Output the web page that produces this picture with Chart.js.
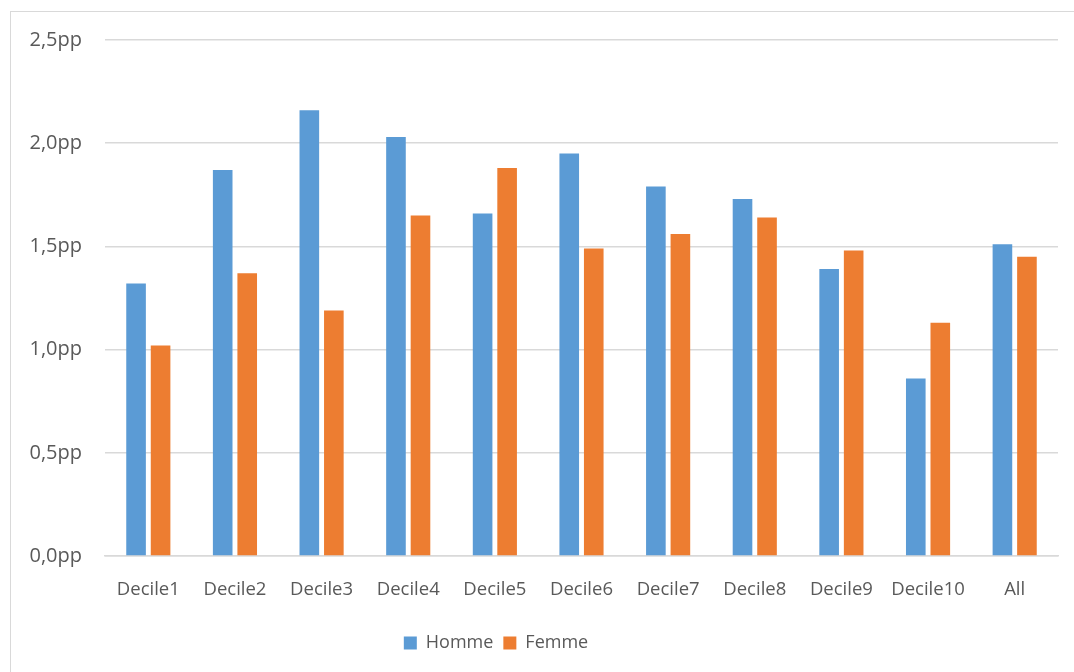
<!DOCTYPE html>
<html>
<head>
<meta charset="utf-8">
<script src="https://cdn.jsdelivr.net/npm/chart.js@4"></script>
<style>
body{margin:0;background:#fff;}
#wrap{position:relative;width:1074px;height:672px;}
#cadre{position:absolute;left:10px;top:11px;right:-5px;bottom:-5px;border-left:1px solid #D9D9D9;border-top:1px solid #D9D9D9;}
canvas{position:absolute;left:0;top:0;}
</style>
</head>
<body>
<div id="wrap">
<div id="cadre"></div>
<canvas id="grafica" width="1074" height="672"></canvas>
</div>
<script>

const deciles = ["Decile1","Decile2","Decile3","Decile4","Decile5","Decile6","Decile7","Decile8","Decile9","Decile10","All"]

const homme = [1.32,1.87,2.16,2.03,1.66,1.95,1.79,1.73,1.39,0.86,1.51]
const femme = [1.02,1.37,1.19,1.65,1.88,1.49,1.56,1.64,1.48,1.13,1.45]

const ejeMax = 2.5
const ejePaso = 0.5
const sufijo = "pp"

const gris = "#595959"
const fuente = "'Open Sans', sans-serif"

// la leyenda de Excel queda un poco a la izquierda del centro
const moverLeyenda = {
id:"moverLeyenda",
beforeDraw(chart){
const l = chart.legend
if(!l || l._movida) return
l.left -= 43
l.right -= 43
l._movida = true
},
afterUpdate(chart){
if(chart.legend) chart.legend._movida = false
}
}

new Chart(document.getElementById("grafica"),{

type:"bar",

data:{
labels:deciles,
datasets:[
{label:"Homme",data:homme,backgroundColor:"#5B9BD5",categoryPercentage:0.566,barPercentage:0.8},
{label:"Femme",data:femme,backgroundColor:"#ED7D31",categoryPercentage:0.566,barPercentage:0.8}
]
},

options:{
responsive:false,
animation:false,
layout:{padding:{left:20,right:16,top:40,bottom:10}},
plugins:{
legend:{
position:"bottom",
labels:{boxWidth:13,boxHeight:13,padding:10,color:gris,font:{family:fuente,size:18}}
},
tooltip:{enabled:false}
},
scales:{
x:{
grid:{display:false},
border:{display:true,color:"#D9D9D9",width:1.5},
ticks:{color:gris,padding:15,font:{family:fuente,size:18.5},maxRotation:0,autoSkip:false},
afterFit:s=>{s.height=68}
},
y:{
min:0,
max:ejeMax,
border:{display:false},
grid:{color:"#D9D9D9",lineWidth:1.5,drawTicks:false},
ticks:{
stepSize:ejePaso,
color:gris,
padding:23,
font:{family:fuente,size:20},
callback:v=>v.toFixed(1).replace(".",",")+sufijo
},
afterFit:s=>{s.width=85}
}
}
},

plugins:[moverLeyenda]

})

</script>
</body>
</html>
